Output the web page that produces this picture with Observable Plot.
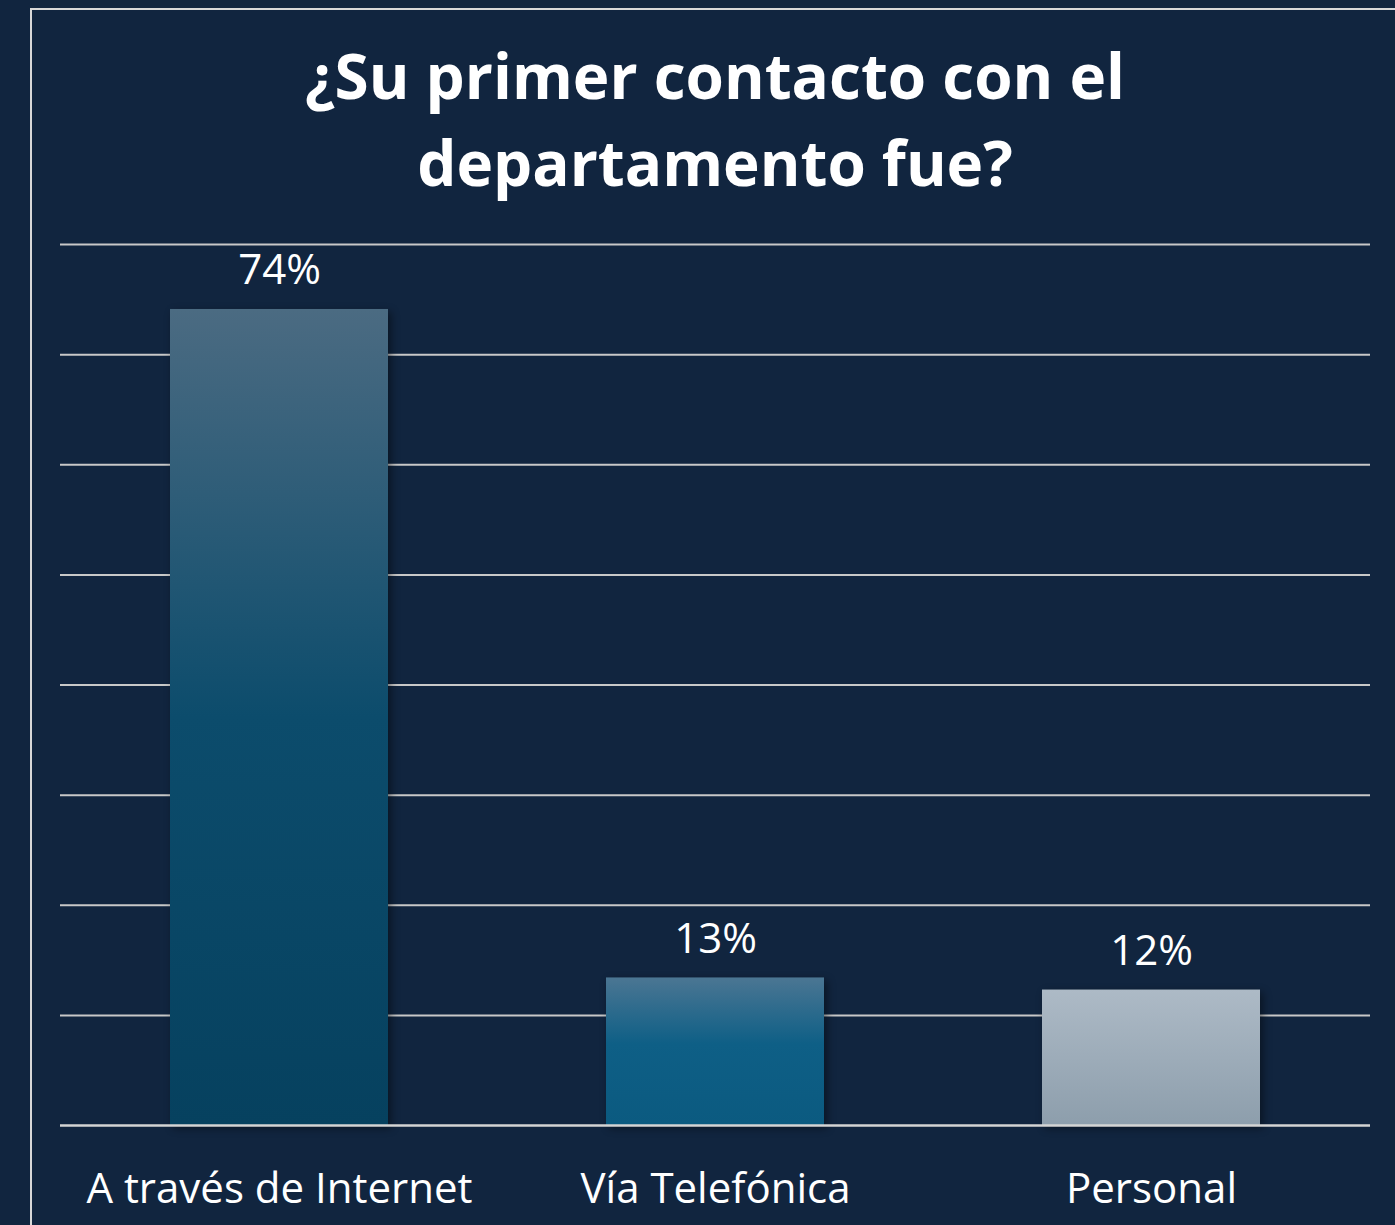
<!DOCTYPE html>
<html><head><meta charset="utf-8">
<script src="https://cdn.jsdelivr.net/npm/d3@7"></script>
<script src="https://cdn.jsdelivr.net/npm/@observablehq/plot@0.6"></script>
<style>
html,body{margin:0;padding:0;background:#11253f;width:1395px;height:1225px;overflow:hidden}
#frame{position:absolute;left:30px;top:8px;right:-10px;bottom:-10px;border-left:2px solid #d8d8d8;border-top:2px solid #d8d8d8}
#title{position:absolute;left:0;top:0;width:1360px;padding-left:35px;padding-top:32px;text-align:center;color:#fff;font-family:"Open Sans";font-weight:bold;font-size:62px;line-height:87px}
#chart{position:absolute;left:0;top:230px}
#chart g[aria-label="bar"] rect{filter:drop-shadow(3px 3px 4px rgba(0,0,0,0.45))}
</style></head>
<body>
<div id="frame"></div>
<div id="title">¿Su primer contacto con el<br>departamento fue?</div>
<div id="chart"></div>
<script>
const categories = ["A través de Internet", "Vía Telefónica", "Personal"];
const values = [0.741, 0.134, 0.123];
const valueLabels = ["74%", "13%", "12%"];
const gradients = ["url(#g0)", "url(#g1)", "url(#g2)"];
const gridTicks = [0.1, 0.2, 0.3, 0.4, 0.5, 0.6, 0.7, 0.8];

const data = categories.map((c, i) => ({cat: c, value: values[i], label: valueLabels[i], grad: gradients[i]}));

const chart = Plot.plot({
  width: 1395,
  height: 995,
  marginTop: 14,
  marginBottom: 100,
  marginLeft: 60,
  marginRight: 25,
  x: {domain: categories, paddingInner: 0.5, paddingOuter: 0.25, label: null},
  y: {domain: [0, 0.8], axis: null},
  color: {type: "identity"},
  style: {background: "transparent", color: "#fff", fontFamily: "Open Sans", overflow: "visible"},
  marks: [
    Plot.ruleY(gridTicks, {stroke: "#c8c8c8", strokeWidth: 2, strokeOpacity: 1}),
    Plot.barY(data, {x: "cat", y: "value", fill: "grad"}),
    Plot.ruleY([0], {stroke: "#d4d4d4", strokeWidth: 2.5, strokeOpacity: 1}),
    Plot.text(data, {x: "cat", y: "value", text: "label", dy: -25, lineAnchor: "bottom", fontSize: 42, fill: "#fff"}),
    Plot.axisX({tickSize: 0, tickPadding: 48, fontSize: 42, fill: "#fff", label: null})
  ]
});

const svg = d3.select(chart);
const defs = svg.insert("defs", ":first-child");
const gradStops = [
  [["0", "#4b6b82"], ["0.5", "#0c4c6c"], ["1", "#06415f"]],
  [["0", "#4b7693"], ["0.45", "#0e5f86"], ["1", "#0b5a80"]],
  [["0", "#adbac6"], ["1", "#8d9eac"]]
];
gradStops.forEach((stops, i) => {
  const g = defs.append("linearGradient").attr("id", "g" + i).attr("x1", 0).attr("y1", 0).attr("x2", 0).attr("y2", 1);
  stops.forEach(([o, c]) => g.append("stop").attr("offset", o).attr("stop-color", c));
});
document.getElementById("chart").append(chart);
</script>
</body></html>
